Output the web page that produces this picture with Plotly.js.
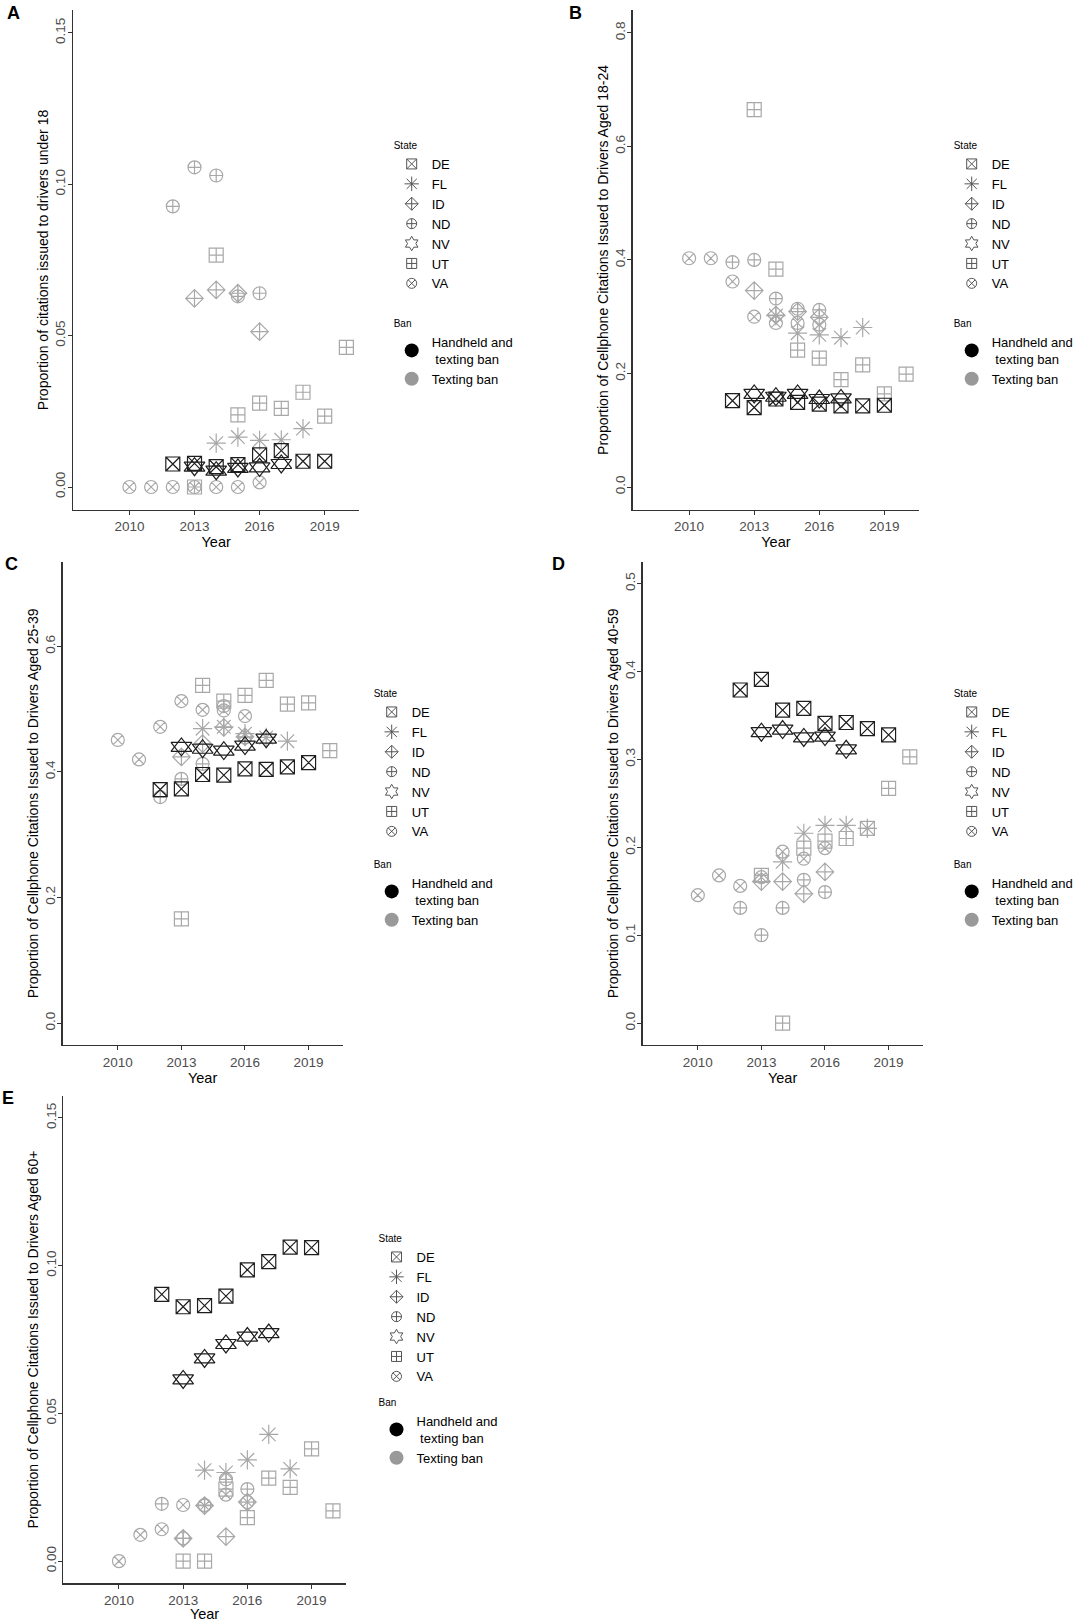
<!DOCTYPE html>
<html><head><meta charset="utf-8">
<script src="https://cdn.plot.ly/plotly-3.0.1.min.js"></script>
<style>html,body{margin:0;padding:0;background:#fff}#chart{width:1083px;height:1622px}</style>
</head><body><div id="chart"></div>
<script>
// ---------- data ----------
const states = ['DE','FL','ID','ND','NV','UT','VA'];
const banLabels = ['Handheld and<br> texting ban','Texting ban'];
const stateBan = [0,1,1,1,0,1,1]; // index into banLabels
const xTicks = [2010,2013,2016,2019];
const panelLetters = ['A','B','C','D','E'];
const yTitles = [
  'Proportion of citations issued to drivers under 18',
  'Proportion of Cellphone Citations Issued to Drivers Aged 18-24',
  'Proportion of Cellphone Citations Issued to Drivers Aged 25-39',
  'Proportion of Cellphone Citations Issued to Drivers Aged 40-59',
  'Proportion of Cellphone Citations Issued to Drivers Aged 60+'
];

const yearsDE = [2012,2013,2014,2015,2016,2017,2018,2019];
const yearsFL = [2014,2015,2016,2017,2018];
const yearsID = [2013,2014,2015,2016];
const yearsND = [2012,2013,2014,2015,2016];
const yearsNV = [2013,2014,2015,2016,2017];
const yearsUT = [2013,2014,2015,2016,2017,2018,2019,2020];
const yearsVA = [2010,2011,2012,2013,2014,2015,2016];

// A: under 18
const aDE = [0.0076,0.0078,0.0067,0.0074,0.0106,0.0120,0.0085,0.0085];
const aFL = [0.0145,0.0165,0.0154,0.0156,0.0193];
const aID = [0.0623,0.0651,0.0640,0.0513];
const aND = [0.0927,0.1056,0.1029,0.0630,0.0640];
const aNV = [0.0067,0.0054,0.0063,0.0065,0.0076];
const aUT = [0.0000,0.0766,0.0238,0.0277,0.0260,0.0313,0.0234,0.0461];
const aVA = [0.0000,0.0000,0.0000,0.0000,0.0000,0.0000,0.0015];
// B: 18-24
const bDE = [0.152,0.140,0.155,0.149,0.146,0.143,0.143,0.144];
const bFL = [0.302,0.271,0.268,0.263,0.281];
const bID = [0.346,0.303,0.309,0.299];
const bND = [0.396,0.400,0.332,0.314,0.312];
const bNV = [0.164,0.159,0.164,0.155,0.156];
const bUT = [0.665,0.384,0.241,0.227,0.189,0.215,0.164,0.199];
const bVA = [0.403,0.403,0.362,0.300,0.289,0.289,0.286];
// C: 25-39
const cDE = [0.372,0.373,0.396,0.395,0.405,0.404,0.408,0.415];
const cFL = [0.469,0.472,0.461,0.455,0.449];
const cID = [0.424,0.445,0.471,0.456];
const cND = [0.360,0.389,0.413,0.505,0.455];
const cNV = [0.440,0.437,0.434,0.442,0.453];
const cUT = [0.166,0.538,0.513,0.522,0.546,0.508,0.510,0.434];
const cVA = [0.451,0.420,0.472,0.513,0.499,0.498,0.489];
// D: 40-59
const dDE = [0.379,0.391,0.356,0.358,0.341,0.342,0.335,0.328];
const dFL = [0.1835,0.216,0.225,0.225,0.2215];
const dID = [0.161,0.161,0.147,0.172];
const dND = [0.131,0.100,0.131,0.163,0.149];
const dNV = [0.331,0.334,0.325,0.326,0.3115];
const dUT = [0.168,0.000,0.199,0.207,0.210,0.2215,0.267,0.303];
const dVA = [0.1455,0.168,0.156,0.166,0.195,0.187,0.199];
// E: 60+
const eDE = [0.0903,0.0861,0.0865,0.0897,0.0986,0.1014,0.1063,0.1061];
const eFL = [0.0308,0.0300,0.0343,0.0429,0.0312];
const eID = [0.0077,0.0188,0.0083,0.0200];
const eND = [0.0194,0.0077,0.0190,0.0277,0.0244];
const eNV = [0.0615,0.0686,0.0735,0.0760,0.0772];
const eUT = [0.0000,0.0000,0.0244,0.0147,0.0281,0.0250,0.0380,0.0170];
const eVA = [0.0000,0.0089,0.0108,0.0190,0.0188,0.0225,0.0200];

const stateYears = [yearsDE,yearsFL,yearsID,yearsND,yearsNV,yearsUT,yearsVA];
const panelValues = [
  [aDE,aFL,aID,aND,aNV,aUT,aVA],
  [bDE,bFL,bID,bND,bNV,bUT,bVA],
  [cDE,cFL,cID,cND,cNV,cUT,cVA],
  [dDE,dFL,dID,dND,dNV,dUT,dVA],
  [eDE,eFL,eID,eND,eNV,eUT,eVA]
];

// ---------- styling ----------
const W = 1083, H = 1622;
const F = 'Liberation Sans, Arial, sans-serif';
const banColors = ['#1e1e1e','#a8a8a8'];
const banLegendColors = ['#000000','#999999'];
const legendStateColor = '#555555';
const symbols = [['square-x-open'],['asterisk-open'],['diamond-cross-open'],['circle-cross-open'],
                 ['triangle-up-open','triangle-down-open'],['square-cross-open'],['circle-x-open']];
const sizes = [14,16,13.5,13,18,14,13];
const legendSymbols = ['square-x-open','asterisk-open','diamond-cross-open','circle-cross-open','hexagram-open','square-cross-open','circle-x-open'];
const legendSizes = [10,12,10,10,11,10,10];

// panel geometry in pixels: [left, right, top, bottom], y range
const panels = [
  {px:[73,359.4,10.2,509.7],   yr:[-0.0075,0.1575], dt:0.05, fmt:'.2f', leg:[391.7,136,314],  let:[13.5,12.7]},
  {px:[632.7,919.1,10.2,509.7],yr:[-0.04,0.84],     dt:0.2,  fmt:'.1f', leg:[951.7,136,314],  let:[575,12.7]},
  {px:[62.7,342.5,561.7,1045], yr:[-0.035,0.735],   dt:0.2,  fmt:'.1f', leg:[371.7,684,855],  let:[11,563.8]},
  {px:[642.7,922.5,561.7,1045],yr:[-0.025,0.525],   dt:0.1,  fmt:'.1f', leg:[951.7,684,855],  let:[558,563.8]},
  {px:[63.3,345.8,1095.8,1583.3],yr:[-0.0075,0.1575],dt:0.05,fmt:'.2f', leg:[376.5,1229,1393],let:[8,1098]}
];

const traces = [];
const layout = {
  width: W, height: H, margin:{l:0,r:0,t:0,b:0},
  paper_bgcolor:'#fff', plot_bgcolor:'#fff',
  font:{family:F, color:'#000'},
  annotations: []
};

panels.forEach((p, i) => {
  const n = i + 1;
  const xa = 'x' + (n === 1 ? '' : n), ya = 'y' + (n === 1 ? '' : n);
  const xKey = 'xaxis' + (n === 1 ? '' : n), yKey = 'yaxis' + (n === 1 ? '' : n);
  const legS = 'legend' + (2*i+1 === 1 ? '' : (2*i+1));
  const legB = 'legend' + (2*i+2);
  const [l, r, t, b] = p.px;

  layout[xKey] = {
    domain:[l/W, r/W], anchor: ya, range:[2007.4,2020.6],
    tickvals: xTicks, ticks:'outside', ticklen:4, tickcolor:'#333', tickwidth:1,
    showline:true, linecolor:'#333', linewidth:1.3, showgrid:false, zeroline:false,
    tickfont:{family:F, size:13.5, color:'#4d4d4d'},
    title:{text:'Year', font:{family:F, size:14.5, color:'#000'}, standoff:1},
    automargin:false, fixedrange:true
  };
  layout[yKey] = {
    domain:[1 - b/H, 1 - t/H], anchor: xa, range:p.yr,
    tick0:0, dtick:p.dt, tickformat:p.fmt, tickangle:-90,
    ticks:'outside', ticklen:4, tickcolor:'#333', tickwidth:1, ticklabelstandoff:-3,
    showline:true, linecolor:'#333', linewidth:1.3, showgrid:false, zeroline:false,
    tickfont:{family:F, size:13.5, color:'#4d4d4d'},
    title:{text:yTitles[i], font:{family:F, size:14, color:'#000'}, standoff:1},
    automargin:false, fixedrange:true
  };

  // data marks (texting-ban states first, handheld states on top)
  const order = [1,2,3,5,6,0,4];
  order.forEach(s => {
    const col = banColors[stateBan[s]];
    symbols[s].forEach(sym => {
      traces.push({
        type:'scatter', mode:'markers', xaxis:xa, yaxis:ya,
        x: stateYears[s], y: panelValues[i][s], name: states[s], showlegend:false,
        marker:{symbol:sym, size:sizes[s], color:col, line:{color:col, width:1.2}},
        hoverinfo:'x+y+name'
      });
    });
  });

  // State legend entries
  states.forEach((st, s) => {
    traces.push({
      type:'scatter', mode:'markers', xaxis:xa, yaxis:ya, x:[null], y:[null],
      name: st, legend: legS, showlegend:true,
      marker:{symbol:legendSymbols[s], size:legendSizes[s], color:legendStateColor, line:{color:legendStateColor, width:1}}
    });
  });
  // Ban legend entries
  banLabels.forEach((bl, k) => {
    traces.push({
      type:'scatter', mode:'markers', xaxis:xa, yaxis:ya, x:[null], y:[null],
      name: bl, legend: legB, showlegend:true,
      marker:{symbol:'circle', size:14, color:banLegendColors[k]}
    });
  });

  const legBase = {
    xanchor:'left', yanchor:'top', bgcolor:'rgba(0,0,0,0)', borderwidth:0,
    font:{family:F, size:13, color:'#000'}, itemwidth:30, tracegroupgap:0
  };
  layout[legS] = Object.assign({}, legBase, {x:p.leg[0]/W, y:1 - p.leg[1]/H, title:{text:'State', font:{family:F, size:10, color:'#000'}}});
  layout[legB] = Object.assign({}, legBase, {x:p.leg[0]/W, y:1 - p.leg[2]/H, title:{text:'Ban', font:{family:F, size:10, color:'#000'}}});

  layout.annotations.push({
    text:'<b>' + panelLetters[i] + '</b>', xref:'paper', yref:'paper',
    x:p.let[0]/W, y:1 - p.let[1]/H, xanchor:'center', yanchor:'middle', showarrow:false,
    font:{family:F, size:18, color:'#000'}
  });
});

Plotly.newPlot('chart', traces, layout, {staticPlot:true, displayModeBar:false});
</script></body></html>
